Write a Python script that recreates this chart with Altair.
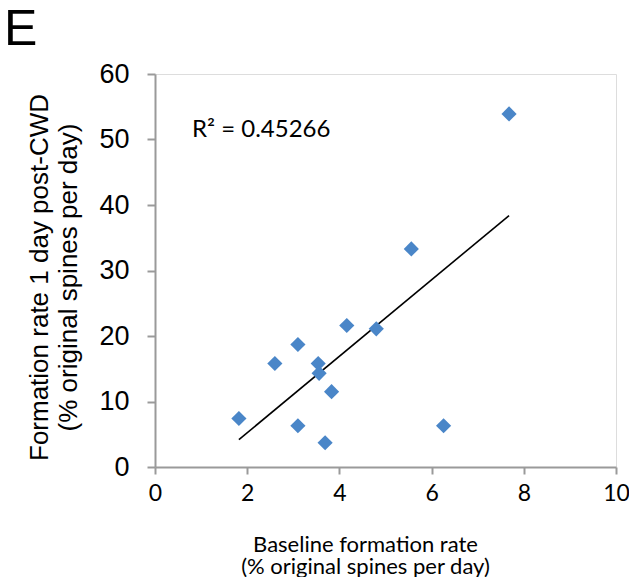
import altair as alt
import pandas as pd

# Data
baseline_rate = [7.68, 5.56, 4.16, 4.80, 3.10, 2.60, 3.54, 3.56, 3.83, 1.82, 3.10, 3.69, 6.26]
post_cwd_rate = [53.9, 33.3, 21.6, 21.1, 18.7, 15.8, 15.8, 14.3, 11.5, 7.4, 6.3, 3.7, 6.3]
x_ticks = [0, 2, 4, 6, 8, 10]
y_ticks = [0, 10, 20, 30, 40, 50, 60]
r2_label = ["R\u00b2 = 0.45266"]
panel_label = ["E"]

df = pd.DataFrame({"x": baseline_rate, "y": post_cwd_rate})

AXIS_GRAY = "#9a9a9a"

x_enc = alt.X(
    "x:Q",
    scale=alt.Scale(domain=[0, 10], nice=False, zero=False),
    axis=alt.Axis(
        values=x_ticks,
        grid=False,
        labelFlush=False,
        title=["Baseline formation rate", "(% original spines per day)"],
        domainColor=AXIS_GRAY,
        tickColor=AXIS_GRAY,
        domainWidth=2,
        tickWidth=2,
        tickSize=7,
        labelFont="Lato",
        labelFontSize=23,
        labelColor="black",
        labelPadding=8,
        titleFont="Lato",
        titleFontSize=22,
        titleFontWeight="normal",
        titleColor="black",
        titleX=210,
        titleY=84,
        titleAlign="center",
        titleBaseline="alphabetic",
        titleLineHeight=22,
    ),
)

y_enc = alt.Y(
    "y:Q",
    scale=alt.Scale(domain=[0, 60], nice=False),
    axis=alt.Axis(
        values=y_ticks,
        grid=False,
        labelFlush=False,
        title=["Formation rate 1 day post-CWD", "(% original spines per day)"],
        domainColor=AXIS_GRAY,
        tickColor=AXIS_GRAY,
        domainWidth=2,
        tickWidth=2,
        tickSize=8,
        labelFont="Liberation Sans",
        labelFontSize=27,
        labelColor="black",
        labelPadding=18,
        titleFont="Liberation Sans",
        titleFontSize=26,
        titleFontWeight="normal",
        titleColor="black",
        titleAngle=270,
        titleX=-108,
        titleY=203,
        titleAlign="center",
        titleBaseline="alphabetic",
        titleLineHeight=29,
    ),
)

base = alt.Chart(df)

points = base.mark_point(
    shape="diamond", filled=True, size=230, color="#4A86C8", opacity=1
).encode(x=x_enc, y=y_enc)

trend = (
    base.transform_regression("x", "y")
    .mark_line(color="black", strokeWidth=1.6)
    .encode(x="x:Q", y="y:Q")
)

r2 = alt.Chart(pd.DataFrame({"t": r2_label})).mark_text(
    font="Lato", fontSize=24, align="left", baseline="alphabetic", color="black"
).encode(text="t:N", x=alt.value(37), y=alt.value(63))

panel = alt.Chart(pd.DataFrame({"t": panel_label})).mark_text(
    font="Liberation Sans", fontSize=50, align="left", baseline="alphabetic", color="black"
).encode(text="t:N", x=alt.value(-151), y=alt.value(-29))

chart = (
    alt.layer(trend, points, r2, panel)
    .properties(
        width=461,
        height=393,
        autosize=alt.AutoSizeParams(type="none"),
        padding={"left": 147, "top": 66, "right": 13, "bottom": 110},
    )
    .configure_view(stroke=None)
    .configure(background="white")
)

chart.save("out.html", embed_options={"renderer": "svg", "actions": False})
